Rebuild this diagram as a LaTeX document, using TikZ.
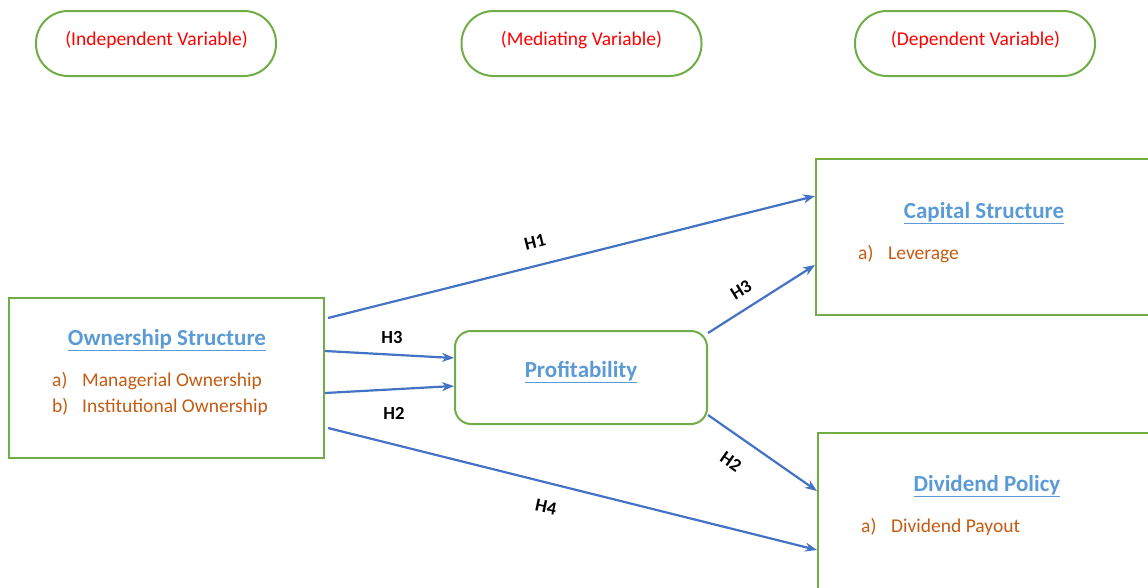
\documentclass[tikz,border=0pt]{standalone}
\usepackage{fontspec}
\setmainfont{Carlito}
\usetikzlibrary{arrows.meta}
\definecolor{gbox}{HTML}{70AD47}
\definecolor{harrow}{HTML}{4472C4}
\definecolor{hblue}{HTML}{5B9BD5}
\definecolor{iorange}{HTML}{C55A11}
\definecolor{vred}{HTML}{FF0000}
\tikzset{
  pill/.style={draw=gbox, line width=2pt, rounded corners=32pt, minimum width=240pt, minimum height=65pt},
  pilltext/.style={text=vred, font=\fontsize{19.5}{22}\selectfont, inner sep=0pt},
  bigbox/.style={draw=gbox, line width=2pt, inner sep=0pt},
  heading/.style={text=hblue, font=\fontsize{23}{26}\selectfont\bfseries, inner sep=0pt},
  item/.style={text=iorange, font=\fontsize{19.5}{22}\selectfont, anchor=west, inner sep=0pt},
  link/.style={draw=harrow, line width=2.2pt, -{Stealth[length=12pt,width=9pt]}},
  hlab/.style={font=\fontsize{18.5}{20}\selectfont\bfseries, inner sep=0pt}
}
\newcommand{\ul}[1]{\underline{#1}}
\newcommand{\itm}[2]{\makebox[30pt][l]{#1}#2}
\begin{document}
\begin{tikzpicture}[x=1pt,y=-1pt]
\useasboundingbox (0,0) rectangle (1148,587);
\clip (0,0) rectangle (1148,587);
% top pills
\node[pill] (iv) at (156,43.5) {};
\node[pill] (mv) at (581.5,43.5) {};
\node[pill] (dv) at (975,43.5) {};
\node[pilltext] (ivt) at (156.5,40) {(Independent Variable)};
\node[pilltext] (mvt) at (581.5,40) {(Mediating Variable)};
\node[pilltext] (dvt) at (975.5,40) {(Dependent Variable)};
% boxes
\node[bigbox, minimum width=315pt, minimum height=160pt] (own) at (166.5,378) {};
\node[bigbox, rounded corners=16pt, minimum width=252pt, minimum height=93pt] (prof) at (581,377.5) {};
\node[bigbox, minimum width=340pt, minimum height=156pt] (cap) at (986,237) {};
\node[bigbox, minimum width=340pt, minimum height=170pt] (div) at (988,518) {};
% texts
\node[heading] (ownh) at (167,340) {\ul{Ownership Structure}};
\node[item] (owna) at (52,381) {\itm{a)}{Managerial Ownership}};
\node[item] (ownb) at (52,407) {\itm{b)}{Institutional Ownership}};
\node[heading] (profh) at (581,372) {\ul{Profitability}};
\node[heading] (caph) at (984,213) {\ul{Capital Structure}};
\node[item] (capa) at (858,254) {\itm{a)}{Leverage}};
\node[heading] (divh) at (987,486) {\ul{Dividend Policy}};
\node[item] (diva) at (861,527) {\itm{a)}{Dividend Payout}};
% connectors
\draw[link] ([xshift=3pt,yshift=60pt]own.east) -- ([yshift=41pt]cap.west);
\draw[link] ([yshift=27pt]own.east) -- ([yshift=19.5pt]prof.west);
\draw[link] ([yshift=-15pt]own.east) -- ([yshift=-8.5pt]prof.west);
\draw[link] ([xshift=3pt,yshift=-50pt]own.east) -- ([yshift=-32pt]div.west);
\draw[link] ([yshift=44.5pt]prof.east) -- ([yshift=-28pt]cap.west);
\draw[link] ([yshift=-37.5pt]prof.east) -- ([yshift=27pt]div.west);
% labels
\node[hlab, rotate=14] (l1) at (535,242) {H1};
\node[hlab] (l3a) at (392,337) {H3};
\node[hlab] (l2a) at (394,413) {H2};
\node[hlab, rotate=-12] (l4) at (546,507) {H4};
\node[hlab, rotate=32] (l3b) at (741,290) {H3};
\node[hlab, rotate=-35] (l2b) at (731,462) {H2};
\end{tikzpicture}
\end{document}
